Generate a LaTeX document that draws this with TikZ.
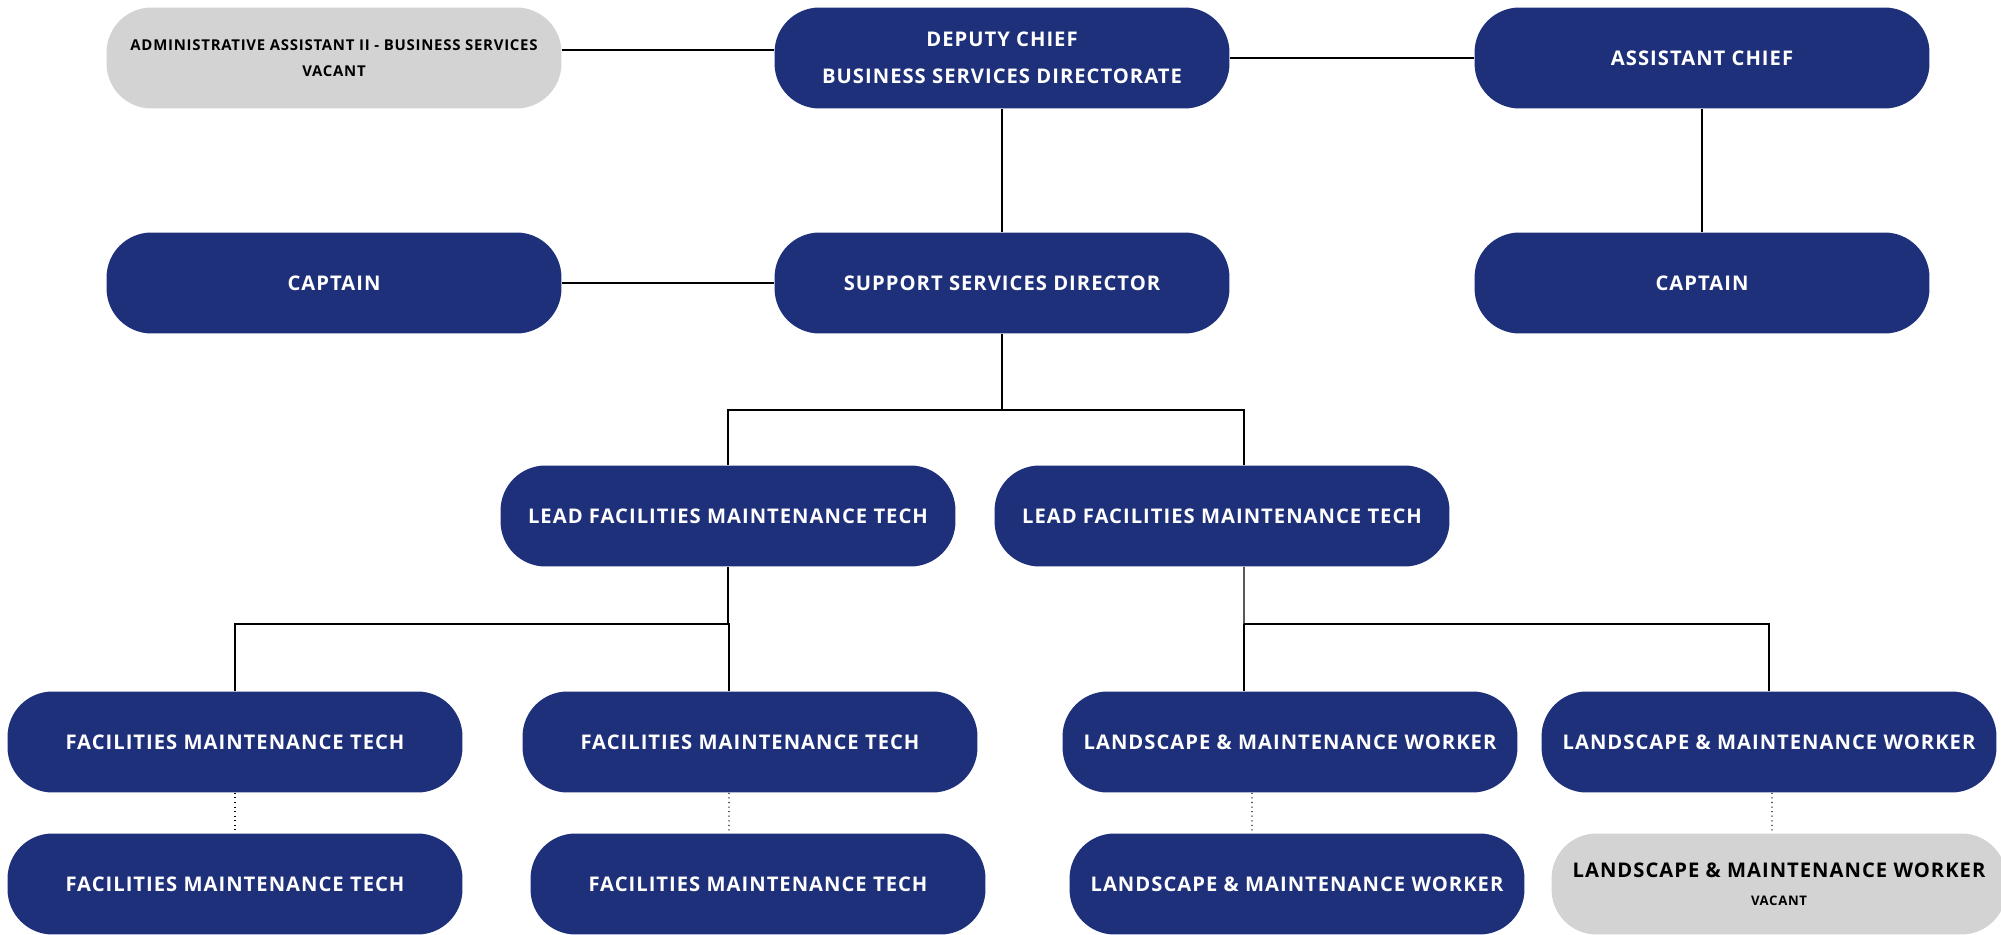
\documentclass[tikz,border=0pt]{standalone}
\usepackage{fontspec}
\setmainfont{Open Sans}
\newfontfamily\postfont[LetterSpace=5]{Open Sans}
\usepackage{tikz}
\usetikzlibrary{calc,positioning}
\definecolor{navy}{RGB}{31,48,123}
\definecolor{vacantgray}{RGB}{211,211,211}

\begin{document}
\begin{tikzpicture}[x=0.02cm,y=-0.02cm,
    post/.style={rounded corners=0.9cm,fill=navy,text=white,inner sep=0pt,
      minimum width=9.1cm,minimum height=2.02cm,align=center,
      font=\postfont\bfseries\fontsize{11.5}{13}\selectfont},
    vacantpost/.style={post,fill=vacantgray,text=black},
    link/.style={line width=0.8pt},
    dotlink/.style={line width=0.6pt,dotted}]
                      \useasboundingbox (0,0) rectangle (2001,935);
                      % top row
                      \node[vacantpost,font=\postfont\bfseries\fontsize{8.5}{10}\selectfont](admin)at(334,58){ADMINISTRATIVE ASSISTANT II - BUSINESS SERVICES\\[5pt]VACANT};
                      \node[post](deputy)at(1002,58){DEPUTY CHIEF\\[8pt]BUSINESS SERVICES DIRECTORATE};
                      \node[post](asst)at(1702,58){ASSISTANT CHIEF};
                      % second row
                      \node[post](capL)at(334,283){CAPTAIN};
                      \node[post](supp)at(1002,283){SUPPORT SERVICES DIRECTOR};
                      \node[post](capR)at(1702,283){CAPTAIN};
                      % leads
                      \node[post](leadL)at(728,516){LEAD FACILITIES MAINTENANCE TECH};
                      \node[post](leadR)at(1222,516){LEAD FACILITIES MAINTENANCE TECH};
                      % staff
                      \node[post](fmtA)at(235,742){FACILITIES MAINTENANCE TECH};
                      \node[post](fmtB)at(750,742){FACILITIES MAINTENANCE TECH};
                      \node[post](lmwA)at(1290,742){LANDSCAPE \& MAINTENANCE WORKER};
                      \node[post](lmwB)at(1769,742){LANDSCAPE \& MAINTENANCE WORKER};
                      \node[post](fmtC)at(235,884){FACILITIES MAINTENANCE TECH};
                      \node[post](fmtD)at(758,884){FACILITIES MAINTENANCE TECH};
                      \node[post](lmwC)at(1297,884){LANDSCAPE \& MAINTENANCE WORKER};
                      \node[vacantpost](lmwD)at(1779,884){LANDSCAPE \& MAINTENANCE WORKER\\[3pt]{\fontsize{7.5}{8}\selectfont VACANT}};
                      % connectors
                      \draw[link]([yshift=0.16cm]admin.east)--([yshift=0.16cm]deputy.west);
                      \draw[link](deputy)--(asst);
                      \draw[link](deputy)--(supp);
                      \draw[link](capL)--(supp);
                      \draw[link](asst)--(capR);
                      \coordinate(busA)at(1002,410);
                      \draw[link](supp.south)--(busA);
                      \draw[link](leadL.north)|-(busA)-|([xshift=0.44cm]leadR.north);
                      \coordinate(busB)at(728,624);
                      \draw[link](leadL.south)--(busB);
                      \draw[link](fmtA.north)|-(busB)-|([xshift=-0.42cm]fmtB.north);
                      \coordinate(busC)at(1244,624);
                      \draw[link]([xshift=0.44cm]leadR.south)--(busC);
                      \draw[link]([xshift=-0.92cm]lmwA.north)|-(busC)-|(lmwB.north);
                      % dotted links
                      \draw[dotlink](fmtA)--(fmtC);
                      \draw[dotlink]([xshift=-0.42cm]fmtB.south)--([xshift=-0.58cm]fmtD.north);
                      \draw[dotlink]([xshift=-0.76cm]lmwA.south)--([xshift=-0.9cm]lmwC.north);
                      \draw[dotlink]([xshift=0.06cm]lmwB.south)--([xshift=-0.14cm]lmwD.north);
                  \end{tikzpicture}
\end{document}
